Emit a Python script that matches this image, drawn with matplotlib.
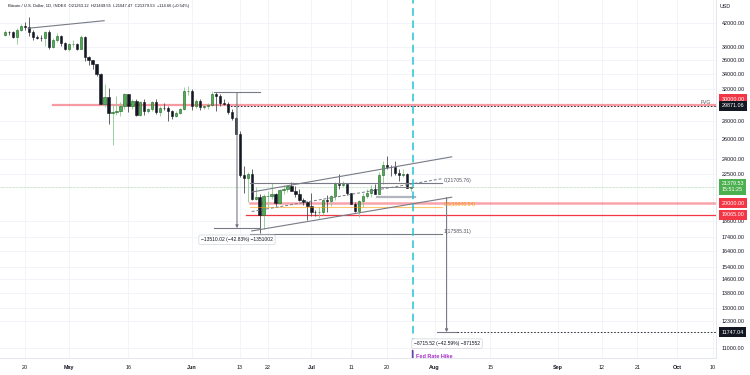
import matplotlib
matplotlib.use('Agg')
import matplotlib.pyplot as plt
import matplotlib.dates as mdates
import matplotlib.transforms as mtransforms
from matplotlib.ticker import NullLocator, FixedLocator
import numpy as np
import pandas as pd

plt.rcParams['font.family'] = ['Liberation Sans', 'DejaVu Sans']

# ── data: BTC daily candles, 2022-04-15 .. 2022-07-26 ───────────────────────
first_open = 39940
closes = [40550, 40420, 39720, 40830, 41500, 41370, 40480, 39710, 39470, 39450,
          40430, 38110, 39240, 39740, 38600, 37710, 38470, 38530, 37750, 39700,
          36550, 36010, 35470, 34060, 30100, 31020, 28940, 29050, 29280, 29860,
          31300, 29860, 30420, 28720, 30310, 29200, 29430, 30300, 29110, 29650,
          29560, 29270, 28630, 29030, 29470, 31730, 31800, 29800, 30450, 29700,
          29860, 29910, 31370, 31130, 30200, 30110, 29090, 28420, 26580, 22490,
          22210, 22580, 20380, 20470, 19010, 20550, 20570, 20720, 19970, 21090,
          21230, 21500, 21040, 20730, 20280, 20100, 19780, 19300, 19250, 19300,
          20230, 20190, 20550, 21640, 21590, 21600, 20850, 19960, 19330, 20210,
          20580, 20830, 21200, 20790, 22430, 23390, 23230, 23160, 22680, 22460,
          22580, 21263.12, 21379.53]
highs = [40860, 40700, 40600, 41100, 41760, 42200, 42980, 40800, 39990, 39950,
         40620, 40790, 39460, 40380, 39920, 38800, 38670, 39150, 38650, 39980,
         39850, 36650, 36130, 35500, 34250, 32650, 32170, 30050, 31080, 30310,
         31420, 31300, 30760, 30650, 30520, 30720, 29600, 30440, 30650, 29800,
         30180, 29850, 29370, 29200, 29560, 32200, 32400, 31970, 30650, 30680,
         29950, 30150, 31750, 31560, 31320, 30650, 30350, 29450, 28550, 26900,
         23300, 22760, 22980, 21350, 20750, 20770, 21000, 21700, 20870, 21200,
         21530, 21580, 21850, 21500, 21180, 20420, 20150, 20870, 19420, 19650,
         20300, 20700, 20650, 21800, 22510, 21950, 21600, 20880, 20050, 20250,
         20880, 21200, 21580, 21680, 22750, 23780, 24280, 23430, 23750, 22980,
         23000, 22650, 21449.55]
lows = [39770, 40020, 39560, 38550, 40580, 40870, 39770, 39200, 39290, 39030,
        38200, 37700, 37880, 38870, 38200, 37580, 37390, 38050, 37540, 37690,
        35850, 35260, 34800, 33700, 30030, 29750, 27720, 25400, 28730, 28640,
        29490, 29110, 29470, 28680, 28660, 28740, 28950, 29240, 28890, 28640,
        29330, 28030, 28260, 28520, 28840, 29310, 31210, 29320, 29580, 29300,
        29480, 29530, 29890, 29250, 29880, 29950, 28880, 28130, 26570, 22300,
        20850, 20120, 20250, 20280, 17650, 17980, 19650, 20360, 19790, 19900,
        20750, 20920, 20990, 20520, 20200, 19850, 18630, 18960, 18990, 18770,
        19040, 19310, 19800, 20270, 21220, 21330, 20680, 19900, 19240, 18900,
        19650, 20400, 20480, 20760, 20760, 21680, 23000, 22350, 22450, 21950,
        22280, 21250, 21047.47]
opens = [first_open] + closes[:-1]

price_ticks = [11000, 12300, 13000, 13800, 14600, 15400, 16400, 17400, 18600,
               22500, 24000, 26000, 28000, 32000, 34000, 36000, 38000, 42000]
date_ticks = ['2022-04-20', '2022-05-01', '2022-05-16', '2022-06-01', '2022-06-13',
              '2022-06-20', '2022-07-01', '2022-07-11', '2022-07-20', '2022-08-01',
              '2022-08-15', '2022-09-01', '2022-09-12', '2022-09-21', '2022-10-01',
              '2022-10-10']
date_labels = ['20', 'May', '16', 'Jun', '13', '22', 'Jul', '11', '20', 'Aug',
               '15', 'Sep', '12', '21', 'Oct', '10']

# horizontal levels drawn on the chart
level_fvg_top = 30000
level_fvg = 29871.06
level_support = 20000
level_low = 19065
level_target = 11747.04
last_price = 21379.53
fib_levels = [(0, 21705.76), (0.5, 19645.54), (1, 17585.31)]

# ── figure ──────────────────────────────────────────────────────────────────
fig = plt.figure(figsize=(7.5, 3.75), dpi=100)
fig.patch.set_facecolor('white')
ax = fig.add_axes([0, 17 / 375, 716 / 750, 358 / 375])
ax.set_facecolor('white')

base = mdates.datestr2num('2022-04-20')
def day(n):
    return base + n

ax.set_yscale('log')
ax.set_xlim(day(-6.29), day(173.75))
ax.set_ylim(10564, 46176)

# grid / axes
ax.yaxis.set_major_locator(FixedLocator(price_ticks))
ax.yaxis.set_minor_locator(NullLocator())
ax.yaxis.set_major_formatter(matplotlib.ticker.FuncFormatter(lambda v, p: f'{v:.2f}'))
ax.yaxis.tick_right()
ax.tick_params(axis='y', length=0, pad=4, labelsize=3.9, labelcolor='#131722')
tick_nums = [mdates.datestr2num(d) for d in date_ticks]
ax.set_xticks(tick_nums)
ax.set_xticklabels(date_labels)
ax.tick_params(axis='x', length=0, pad=5, labelsize=3.9, labelcolor='#131722')
for lab in ax.get_xticklabels():
    if lab.get_text().isalpha():
        lab.set_fontweight('bold')
ax.grid(True, color='#f0f3fa', lw=0.6)
ax.set_axisbelow(True)
for s in ['top', 'left']:
    ax.spines[s].set_visible(False)
for s in ['right', 'bottom']:
    ax.spines[s].set_color('#e0e3eb')
    ax.spines[s].set_linewidth(0.6)

# ── candles ─────────────────────────────────────────────────────────────────
x = mdates.date2num(pd.date_range('2022-04-15', periods=len(closes)))
o = np.array(opens, float); c = np.array(closes, float)
h = np.array(highs, float); l = np.array(lows, float)
up = c >= o
wick_col = np.where(up, '#8bc98e', '#4a4a4a')
ax.vlines(x, l, h, colors=wick_col, lw=0.6, zorder=3)
body_fc = np.where(up, '#4caf50', '#131722')
body_ec = np.where(up, '#1f5f23', '#131722')
ax.bar(x, np.abs(c - o), bottom=np.minimum(o, c), width=0.58,
       color=body_fc, edgecolor=body_ec, lw=0.4, zorder=4)

gray = '#787b86'
xr = ax.get_xlim()[1]

# ── drawings ────────────────────────────────────────────────────────────────
# trend line at the top
ax.plot([day(0.8), day(19.9)], [41100, 42400], color=gray, lw=0.8, zorder=5)

# FVG zone
ax.plot([day(7), xr], [level_fvg_top] * 2, color='#f23645', alpha=0.5, lw=1.6, zorder=2)
ax.plot([day(50.8), xr], [level_fvg] * 2, color='#131722', lw=0.6, ls=(0, (2, 2)), zorder=2)
ax.text(0.993, level_fvg_top, 'FVG', transform=mtransforms.blended_transform_factory(ax.transAxes, ax.transData),
        ha='right', va='bottom', fontsize=3.6, color='#50535e')

# first price range measure
ax.plot([day(47.5), day(59.2)], [31543, 31543], color=gray, lw=0.8, zorder=5)
ax.plot([day(47.5), day(59.2)], [18033, 18033], color=gray, lw=0.8, zorder=5)
ax.annotate('', xy=(day(53.3), 18033), xytext=(day(53.3), 31543),
            arrowprops=dict(arrowstyle='-|>', color=gray, lw=0.8, mutation_scale=4,
                            shrinkA=0, shrinkB=0), zorder=5)

# support lines
ax.plot([day(56.6), xr], [level_support] * 2, color='#f23645', alpha=0.45, lw=1.8, zorder=2)
ax.plot([day(55.6), xr], [level_low] * 2, color='#f23645', lw=0.9, zorder=2)

# fib retracement
fib_cols = {0: gray, 0.5: '#ff9800', 1: gray}
fib_txt = {0: '#50535e', 0.5: '#ff9800', 1: '#50535e'}
for lv, pr in fib_levels:
    ax.plot([day(56.5), day(104.8)], [pr, pr], color=fib_cols[lv], lw=0.8,
            alpha=0.55 if lv == 0.5 else 1, zorder=5)
    ax.annotate(f'{lv:g}({pr:.2f})', xy=(day(105.2), pr), xytext=(0, 2.2),
                textcoords='offset points', ha='left', va='center',
                fontsize=3.7, color=fib_txt[lv], zorder=6)

# parallel channel
ax.plot([day(57), day(107.3)], [20930, 24200], color=gray, lw=0.8, zorder=5)
ax.plot([day(57), day(107.3)], [17830, 20490], color=gray, lw=0.8, zorder=5)
ax.plot([day(57), day(104.8)], [19318, 22114], color=gray, lw=0.7, ls=(0, (3, 2)), zorder=5)

# small zone near the last candles
ax.plot([day(88.8), day(97.6)], [21380, 21380], color=gray, lw=0.6, zorder=5)
ax.plot([day(88.5), day(98)], [20530, 20530], color='#b2b5be', lw=1.6, zorder=2)

# last price line
ax.axhline(last_price, color='#4caf50', lw=0.5, ls=(0, (1, 1)), alpha=0.6, zorder=1)

# second price range measure
ax.annotate('', xy=(day(106.0), level_target), xytext=(day(106.0), 20464),
            arrowprops=dict(arrowstyle='-|>', color=gray, lw=0.8, mutation_scale=4,
                            shrinkA=0, shrinkB=0), zorder=5)
ax.plot([day(103.6), day(108.6)], [level_target] * 2, color=gray, lw=0.8, zorder=5)
ax.plot([day(108.6), xr], [level_target] * 2, color='#131722', lw=0.6, ls=(0, (2, 2)), zorder=5)

# measure labels
box = dict(boxstyle='round,pad=0.45,rounding_size=0.3', fc='white', ec='#d1d4dc', lw=0.5)
ax.text(day(53.3), 17196, '\u221213510.02 (\u221242.83%) \u22121351002', ha='center', va='center',
        fontsize=3.6, color='#131722', bbox=box, zorder=7)
ax.text(day(106.1), 11210, '\u22128715.52 (\u221242.59%) \u2212871552', ha='center', va='center',
        fontsize=3.6, color='#131722', bbox=box, zorder=7)

# Fed rate hike marker
ax.axvline(day(97.5), color='#22c3d6', lw=1.1, ls=(0, (5, 3)), zorder=6)
ax.plot([day(97.3), day(97.3)], [10600, 10900], color='#9c27b0', lw=1.0, zorder=7)
ax.text(day(98.4), 10650, 'Fed Rate Hike', ha='left', va='center', fontsize=4.0,
        color='#a52fc7', fontweight='bold', zorder=7)

# ── right axis labels ───────────────────────────────────────────────────────
tr = mtransforms.blended_transform_factory(ax.transAxes, ax.transData)
def price_box(price, txt, fc, dy=0):
    ax.annotate(txt, xy=(1.0, price), xycoords=tr, xytext=(4, dy), textcoords='offset points',
                ha='left', va='center', fontsize=3.9, color='white', annotation_clip=False,
                bbox=dict(boxstyle='square,pad=0.45', fc=fc, ec='none'), zorder=10)

price_box(level_fvg_top, f'{level_fvg_top:.2f}', '#f23645', dy=4)
price_box(level_fvg, f'{level_fvg:.2f}', '#131722')
price_box(last_price, f'{last_price:.2f}\n15:51:25', '#4caf50')
price_box(level_support, f'{level_support:.2f}', '#f23645')
price_box(level_low, f'{level_low:.2f}', '#f23645')
price_box(level_target, f'{level_target:.2f}', '#131722')

fig.text(725 / 750, 1 - 6 / 375, 'USD', ha='center', va='center', fontsize=3.9, color='#131722')

# header
fig.text(8 / 750, 1 - 6 / 375,
         'Bitcoin / U.S. Dollar, 1D, INDEX  O21263.12  H21449.55  L21047.47  C21379.53  +114.66 (+0.54%)',
         ha='left', va='center', fontsize=3.0, color='#131722')

fig.savefig('out.png', dpi=100, facecolor='white')
